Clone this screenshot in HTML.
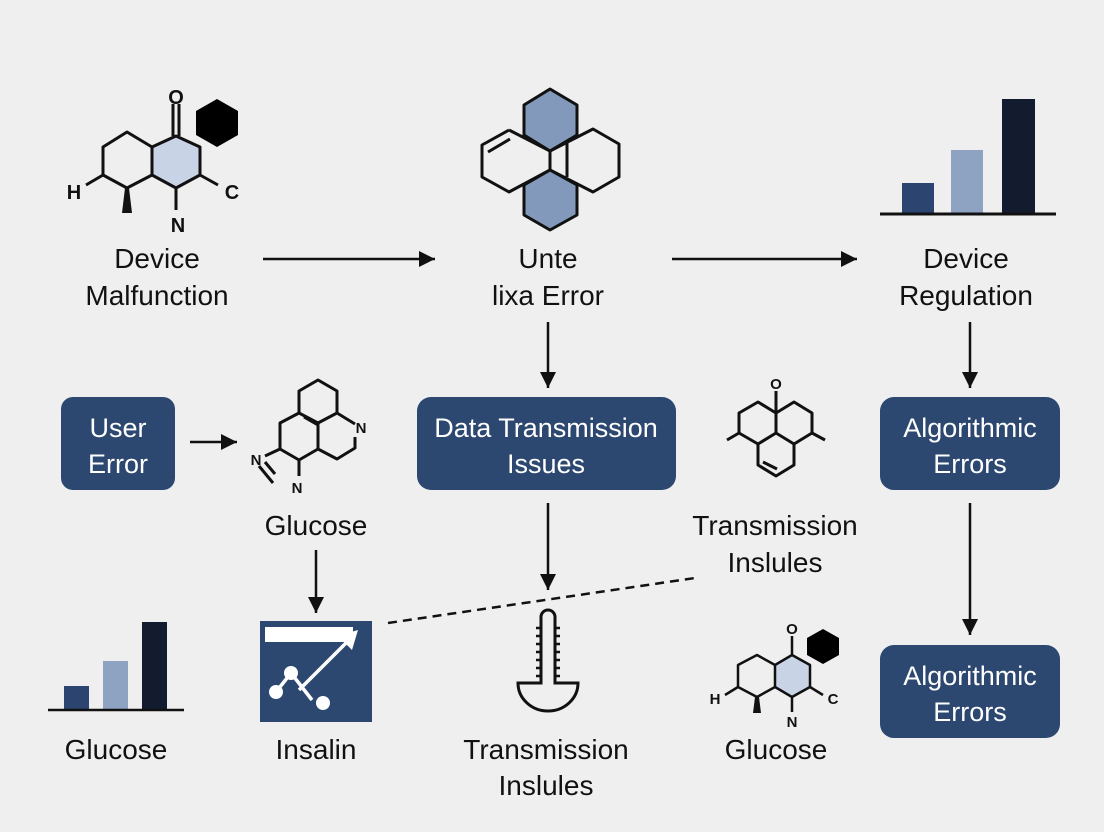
<!DOCTYPE html>
<html><head><meta charset="utf-8"><style>
body{margin:0;background:#efeff0;}
svg{display:block}
text{font-family:"Liberation Sans",sans-serif;}
.l{font-size:28px;fill:#111;text-anchor:middle}
.w{font-size:27px;fill:#fff;text-anchor:middle}
.m{fill:none;stroke:#111;stroke-width:3;stroke-linejoin:round}
.a{stroke:#111;stroke-width:2.5}
.s{font-size:20px;font-weight:bold;fill:#111;text-anchor:middle}
.t{font-size:15px;font-weight:bold;fill:#111;text-anchor:middle}
</style></head><body>
<svg width="1104" height="832" viewBox="0 0 1104 832">
<defs>
<marker id="ar" viewBox="0 0 10 10" markerWidth="16" markerHeight="16" refX="10" refY="5" orient="auto" markerUnits="userSpaceOnUse"><path d="M0,0 L10,5 L0,10z" fill="#111"/></marker>
</defs>

<!-- top-left molecule -->
<polygon points="217,99 238,111 238,135 217,147 196,135 196,111" fill="#000"/>
<path d="M173,136 L173,104 M179,136 L179,104" stroke="#111" stroke-width="3"/>
<polygon points="176,136 200,147 200,175 176,188 152,175 152,147" fill="#c8d4e5" stroke="#111" stroke-width="3" stroke-linejoin="round"/>
<path class="m" d="M152,147 L127,132 L103,147 L103,175 L127,188 L152,175 M103,175 L86,185 M200,175 L218,185 M176,188 L176,210"/>
<polygon points="125,188 129,188 132,213 122,213" fill="#111"/>
<text x="176" y="104" class="s">O</text>
<text x="74" y="199" class="s">H</text><text x="232" y="199" class="s">C</text><text x="178" y="232" class="s">N</text>
<text x="157" y="268" class="l">Device</text><text x="157" y="305" class="l">Malfunction</text>
<line x1="263" y1="259" x2="435" y2="259" class="a" marker-end="url(#ar)"/>

<!-- top-center molecule -->
<path class="m" d="M509,130 L550,151 M509,130 L482,145 L482,177 L509,192 L550,170 M488,152 L510,139 M550,151 L593,129 L619,144 L619,177 L593,192 L550,170 M567,143 L567,177 M550,151 L550,170"/>
<polygon points="550,89 577,105 577,135 550,151 524,135 524,105" fill="#8299bb" stroke="#111" stroke-width="3" stroke-linejoin="round"/>
<polygon points="550,170 577,185 577,215 550,230 524,215 524,185" fill="#8299bb" stroke="#111" stroke-width="3" stroke-linejoin="round"/>
<text x="548" y="268" class="l">Unte</text><text x="548" y="305" class="l">lixa Error</text>
<line x1="672" y1="259" x2="857" y2="259" class="a" marker-end="url(#ar)"/>

<!-- top-right bar chart -->
<rect x="902" y="183" width="32" height="31" fill="#2c4570"/>
<rect x="951" y="150" width="32" height="64" fill="#8ea2c2"/>
<rect x="1002" y="99" width="33" height="115" fill="#121c2e"/>
<line x1="880" y1="214" x2="1056" y2="214" stroke="#111" stroke-width="3"/>
<text x="966" y="268" class="l">Device</text><text x="966" y="305" class="l">Regulation</text>

<line x1="548" y1="322" x2="548" y2="388" class="a" marker-end="url(#ar)"/>
<line x1="970" y1="322" x2="970" y2="388" class="a" marker-end="url(#ar)"/>

<!-- boxes -->
<rect x="61" y="397" width="114" height="93" rx="12" fill="#2c4870"/>
<text x="118" y="437" class="w">User</text><text x="118" y="473" class="w">Error</text>
<rect x="417" y="397" width="259" height="93" rx="14" fill="#2c4870"/>
<text x="546" y="437" class="w">Data Transmission</text><text x="546" y="473" class="w">Issues</text>
<rect x="880" y="397" width="180" height="93" rx="14" fill="#2c4870"/>
<text x="970" y="437" class="w">Algorithmic</text><text x="970" y="473" class="w">Errors</text>

<line x1="190" y1="442" x2="237" y2="442" class="a" marker-end="url(#ar)"/>

<!-- glucose molecule -->
<path class="m" d="M318,380 L337,391 L337,413 L318,423 L299,413 L299,391 Z M299,413 L280,423 L280,449 L299,460 L318,449 L318,423 M304,417 L318,425 M318,423 L337,413 L355,424 M355,437 L355,448 L337,459 L318,449 M280,449 L265,456 M299,460 L299,476 M259,466 L273,483 M265,462 L275,474"/>
<text x="361" y="433" class="t">N</text>
<text x="256" y="465" class="t">N</text>
<text x="297" y="493" class="t">N</text>
<text x="316" y="535" class="l">Glucose</text>

<!-- right-center molecule -->
<text x="776" y="389" class="t">O</text>
<path class="m" d="M776,391 L776,413 M776,413 L758,402 L739,413 L739,433 L758,444 L776,433 Z M776,413 L794,402 L812,413 L812,433 L794,444 L776,433 M758,444 L758,465 L776,476 L794,465 L794,444 M763,462 L777,469 M739,433 L727,440 M812,433 L825,440"/>
<text x="775" y="535" class="l">Transmission</text><text x="775" y="572" class="l">Inslules</text>

<line x1="316" y1="550" x2="316" y2="613" class="a" marker-end="url(#ar)"/>
<line x1="548" y1="503" x2="548" y2="590" class="a" marker-end="url(#ar)"/>
<line x1="970" y1="503" x2="970" y2="635" class="a" marker-end="url(#ar)"/>
<line x1="388" y1="623" x2="695" y2="578" stroke="#111" stroke-width="2.5" stroke-dasharray="9,6"/>

<!-- insalin icon -->
<rect x="260" y="621" width="112" height="101" fill="#2c4870"/>
<rect x="265" y="627" width="88" height="15" fill="#fff"/>
<path d="M276,692 L291,673 L312,700 M299,690 L352,637" stroke="#fff" stroke-width="3.5" fill="none"/>
<polygon points="358,630 352,650 338,636" fill="#fff"/>
<circle cx="276" cy="692" r="7" fill="#fff"/><circle cx="291" cy="673" r="7" fill="#fff"/><circle cx="323" cy="703" r="7" fill="#fff"/>

<!-- thermometer -->
<path d="M541,683 L541,617 A7,7 0 0 1 555,617 L555,683 L578,683 A30,28 0 0 1 518,683 Z" fill="none" stroke="#111" stroke-width="3"/>
<path d="M541,628 H536 M541,636 H536 M541,644 H536 M541,652 H536 M541,660 H536 M541,668 H536 M541,676 H536 M555,628 H560 M555,636 H560 M555,644 H560 M555,652 H560 M555,660 H560 M555,668 H560 M555,676 H560" stroke="#111" stroke-width="2.5"/>

<!-- bottom-left bar chart -->
<rect x="64" y="686" width="25" height="24" fill="#2c4570"/>
<rect x="103" y="661" width="25" height="49" fill="#8ea2c2"/>
<rect x="142" y="622" width="25" height="88" fill="#121c2e"/>
<line x1="48" y1="710" x2="184" y2="710" stroke="#111" stroke-width="2.5"/>
<text x="116" y="759" class="l">Glucose</text>
<text x="316" y="759" class="l">Insalin</text>
<text x="546" y="759" class="l">Transmission</text><text x="546" y="795" class="l">Inslules</text>

<!-- bottom molecule -->
<polygon points="823,629 839,638 839,655 823,664 807,655 807,638" fill="#000"/>
<path d="M792,655 L792,636" stroke="#111" stroke-width="2.5"/>
<polygon points="792,655 810,665 810,687 792,697 775,687 775,665" fill="#c8d4e5" stroke="#111" stroke-width="2.5" stroke-linejoin="round"/>
<path d="M775,665 L757,655 L738,665 L738,687 L757,697 L775,687 M738,687 L725,695 M810,687 L823,695 M792,697 L792,712" fill="none" stroke="#111" stroke-width="2.5" stroke-linejoin="round"/>
<polygon points="755,697 759,697 761,713 753,713" fill="#111"/>
<text x="792" y="634" class="t">O</text>
<text x="715" y="704" class="t">H</text><text x="833" y="704" class="t">C</text><text x="792" y="727" class="t">N</text>
<text x="776" y="759" class="l">Glucose</text>

<rect x="880" y="645" width="180" height="93" rx="14" fill="#2c4870"/>
<text x="970" y="685" class="w">Algorithmic</text><text x="970" y="721" class="w">Errors</text>
</svg>
</body></html>
